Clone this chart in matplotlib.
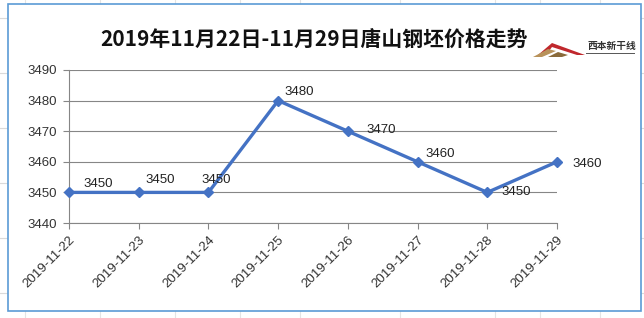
import matplotlib
matplotlib.use("Agg")
import matplotlib.pyplot as plt
from matplotlib.patches import Rectangle, Polygon
from matplotlib.lines import Line2D

plt.rcParams['font.family'] = ['Noto Sans CJK SC', 'DejaVu Sans']

dates = ["2019-11-22", "2019-11-23", "2019-11-24", "2019-11-25",
         "2019-11-26", "2019-11-27", "2019-11-28", "2019-11-29"]
prices = [3450, 3450, 3450, 3480, 3470, 3460, 3450, 3460]
yticks = [3440, 3450, 3460, 3470, 3480, 3490]
title = "2019年11月22日-11月29日唐山钢坯价格走势"
# label offsets (pixels, x right / y up) of the label's left-centre from the point
label_offsets = [(14, 8), (7, 12), (-7, 12), (6, 9), (19, 1), (8, 8), (14, 0), (15, -2)]

W, H = 644, 318
fig = plt.figure(figsize=(W / 100, H / 100), dpi=100)
fig.patch.set_facecolor("white")

# spreadsheet grid lines in background
for yy in [18, 73, 128, 183, 238, 293]:
    fig.add_artist(Line2D([0, 1], [1 - yy / H, 1 - yy / H], color="#dadada", lw=0.8, zorder=0))
for xx in [25, 100, 175, 240, 300, 400, 495, 540, 600]:
    fig.add_artist(Line2D([xx / W, xx / W], [0, 1], color="#e4e4e4", lw=0.8, zorder=0))
# chart area white with blue border
fig.add_artist(Rectangle((8 / W, 1 - 311 / H), (641 - 8) / W, (311 - 4) / H,
                         transform=fig.transFigure, facecolor="white",
                         edgecolor="#5b9bd5", lw=1.2, zorder=1))

ax = fig.add_axes([69 / W, 1 - 223 / H, (557 - 69) / W, (223 - 70) / H], zorder=2)
x = list(range(len(dates)))
ax.plot(x, prices, color="#4472c4", lw=2.4, marker="D", markersize=5, zorder=3,
        clip_on=False)
for xi, p, off in zip(x, prices, label_offsets):
    ax.annotate(str(p), (xi, p), xytext=off, textcoords="offset pixels",
                fontsize=9.5, color="#222222", ha="left", va="center",
                family="Liberation Sans", zorder=4)

ax.set_xlim(0, len(dates) - 1)
ax.set_ylim(3440, 3490)
ax.set_yticks(yticks)
ax.set_yticklabels([str(v) for v in yticks], fontsize=9.5, color="#333333", family="Liberation Sans")
ax.set_xticks(x)
ax.set_xticklabels(dates, rotation=45, ha="right", rotation_mode="anchor",
                   fontsize=9.6, color="#333333", family="Liberation Sans")
ax.grid(axis="y", color="#868686", lw=0.8)
ax.set_axisbelow(True)
for s in ["top", "right"]:
    ax.spines[s].set_visible(False)
ax.spines["left"].set_color("#868686")
ax.spines["bottom"].set_color("#868686")
ax.tick_params(axis="both", color="#868686", length=4)
ax.tick_params(axis="y", pad=5)
ax.tick_params(axis="x", pad=4)
ax.set_facecolor("none")

fig.text(314 / W, 1 - 40 / H, title, fontsize=15, fontweight="bold",
         ha="center", va="center", color="#111111", zorder=3)

# small logo
def P(pts, color):
    fig.add_artist(Polygon([[px / W, 1 - py / H] for px, py in pts], closed=True,
                           transform=fig.transFigure, facecolor=color, edgecolor="none", zorder=3))

P([(538, 55), (552, 43), (585, 55), (577, 55), (552, 47), (546, 55)], "#c0282d")
P([(533, 57), (548, 49), (556, 51), (542, 57)], "#b8925a")
P([(548, 57), (558, 52), (568, 55), (562, 57)], "#8a6a3a")
fig.text(588 / W, 1 - 46 / H, "西本新干线", fontsize=7, fontweight="bold", ha="left", va="center",
         color="#333333", zorder=3)
fig.add_artist(Line2D([586 / W, 634 / W], [1 - 53 / H, 1 - 53 / H], color="#555555", lw=0.7, zorder=3))

fig.savefig("out.png", dpi=100)
